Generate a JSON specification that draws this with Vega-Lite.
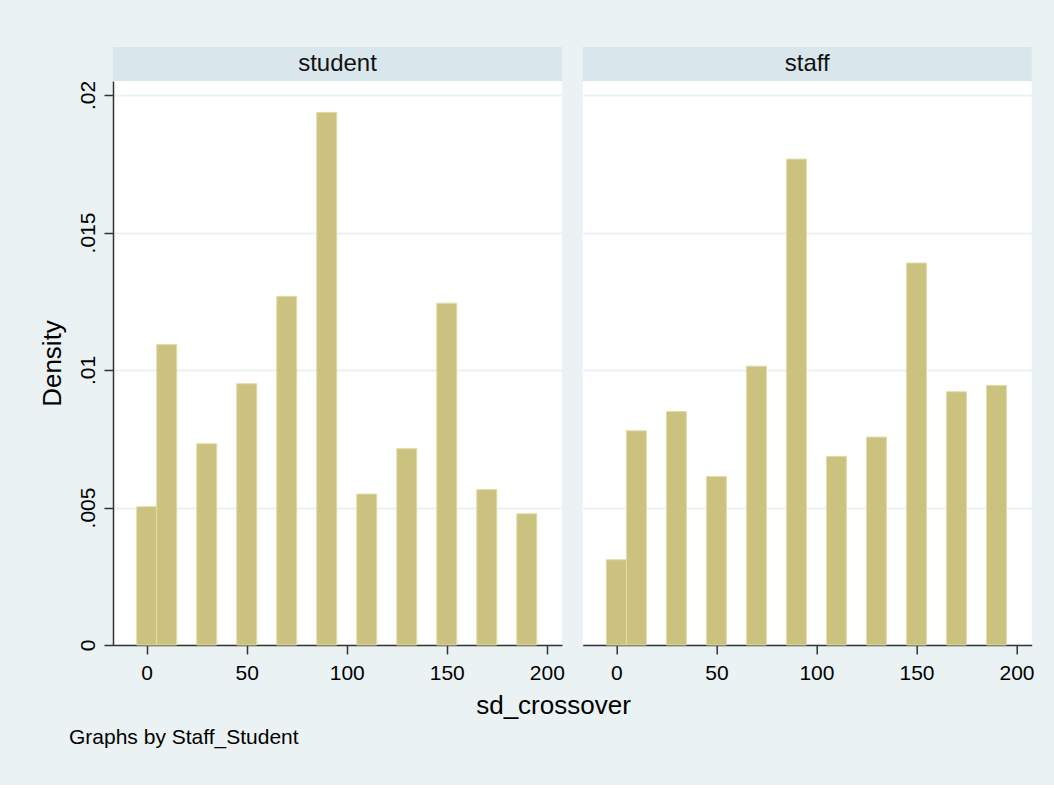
{
  "$schema": "https://vega.github.io/schema/vega-lite/v6.json",
  "background": "#eaf2f3",
  "padding": {"left": 39, "top": 47, "right": 19, "bottom": 37},
  "datasets": {
    "bars": [
      {"group": "student", "value": 0, "lo": -5, "hi": 5, "density": 0.00503},
      {"group": "student", "value": 10, "lo": 5, "hi": 15, "density": 0.01093},
      {"group": "student", "value": 30, "lo": 25, "hi": 35, "density": 0.00732},
      {"group": "student", "value": 50, "lo": 45, "hi": 55, "density": 0.00950},
      {"group": "student", "value": 70, "lo": 65, "hi": 75, "density": 0.01268},
      {"group": "student", "value": 90, "lo": 85, "hi": 95, "density": 0.01937},
      {"group": "student", "value": 110, "lo": 105, "hi": 115, "density": 0.00549},
      {"group": "student", "value": 130, "lo": 125, "hi": 135, "density": 0.00714},
      {"group": "student", "value": 150, "lo": 145, "hi": 155, "density": 0.01243},
      {"group": "student", "value": 170, "lo": 165, "hi": 175, "density": 0.00565},
      {"group": "student", "value": 190, "lo": 185, "hi": 195, "density": 0.00477},
      {"group": "staff", "value": 0, "lo": -5, "hi": 5, "density": 0.00310},
      {"group": "staff", "value": 10, "lo": 5, "hi": 15, "density": 0.00779},
      {"group": "staff", "value": 30, "lo": 25, "hi": 35, "density": 0.00849},
      {"group": "staff", "value": 50, "lo": 45, "hi": 55, "density": 0.00613},
      {"group": "staff", "value": 70, "lo": 65, "hi": 75, "density": 0.01014},
      {"group": "staff", "value": 90, "lo": 85, "hi": 95, "density": 0.01767},
      {"group": "staff", "value": 110, "lo": 105, "hi": 115, "density": 0.00686},
      {"group": "staff", "value": 130, "lo": 125, "hi": 135, "density": 0.00756},
      {"group": "staff", "value": 150, "lo": 145, "hi": 155, "density": 0.01389},
      {"group": "staff", "value": 170, "lo": 165, "hi": 175, "density": 0.00921},
      {"group": "staff", "value": 190, "lo": 185, "hi": 195, "density": 0.00944}
    ],
    "strips": [
      {"group": "student"},
      {"group": "staff"}
    ]
  },
  "title": {
    "text": "Graphs by Staff_Student",
    "orient": "bottom",
    "anchor": "start",
    "fontSize": 21,
    "fontWeight": "normal",
    "color": "#000000",
    "offset": 8,
    "dx": 30
  },
  "vconcat": [
    {
      "title": {
        "text": "sd_crossover",
        "orient": "bottom",
        "anchor": "middle",
        "fontSize": 26,
        "fontWeight": "normal",
        "color": "#000000",
        "offset": 10,
        "dx": 17
      },
      "spacing": 17.7,
      "hconcat": [
        {
          "spacing": 0,
          "bounds": "flush",
          "vconcat": [
            {
              "width": 449,
              "height": 34,
              "data": {"name": "strips"},
              "transform": [{"filter": "datum.group === 'student'"}],
              "view": {"fill": "#d9e6eb", "stroke": null},
              "mark": {"type": "text", "fontSize": 24, "color": "#111111", "align": "center", "baseline": "middle"},
              "encoding": {"text": {"field": "group", "type": "nominal"}}
            },
            {
              "width": 449,
              "height": 564,
              "data": {"name": "bars"},
              "transform": [{"filter": "datum.group === 'student'"}],
              "view": {"fill": "#ffffff", "stroke": null},
              "mark": {"type": "bar", "fill": "#cac27e", "stroke": "#e2dca8", "strokeWidth": 1},
              "encoding": {
                "x": {
                  "field": "lo", "type": "quantitative",
                  "scale": {"domain": [-16.85, 207.6], "nice": false, "zero": false},
                  "axis": {
                    "values": [0, 50, 100, 150, 200], "format": "d", "title": null, "grid": false,
                    "labelFontSize": 21, "labelColor": "#000000", "labelPadding": 8, "labelFlush": false, "labelOverlap": false,
                    "tickSize": 9, "tickColor": "#333333", "tickWidth": 1.5,
                    "domainColor": "#333333", "domainWidth": 1.5
                  }
                },
                "x2": {"field": "hi"},
                "y": {
                  "field": "density", "type": "quantitative",
                  "scale": {"domain": [0, 0.02051], "nice": false},
                  "axis": {
                    "values": [0, 0.005, 0.01, 0.015, 0.02],
                    "labelExpr": "datum.value == 0 ? '0' : slice(format(datum.value, '.3~f'), 1)",
                    "labelAngle": -90, "labelAlign": "center", "labelBaseline": "alphabetic", "labelPadding": 10,
                    "labelFontSize": 21, "labelColor": "#000000", "labelFlush": false, "labelOverlap": false,
                    "tickSize": 9, "tickColor": "#333333", "tickWidth": 1.5,
                    "domainColor": "#333333", "domainWidth": 1.5,
                    "grid": true, "gridColor": "#eaf2f3", "gridWidth": 2,
                    "title": "Density", "titleFontSize": 26, "titleFontWeight": "normal", "titleColor": "#000000", "titlePadding": 12
                  }
                },
                "y2": {"datum": 0}
              }
            }
          ]
        },
        {
          "spacing": 0,
          "bounds": "flush",
          "vconcat": [
            {
              "width": 449,
              "height": 34,
              "data": {"name": "strips"},
              "transform": [{"filter": "datum.group === 'staff'"}],
              "view": {"fill": "#d9e6eb", "stroke": null},
              "mark": {"type": "text", "fontSize": 24, "color": "#111111", "align": "center", "baseline": "middle"},
              "encoding": {"text": {"field": "group", "type": "nominal"}}
            },
            {
              "width": 449,
              "height": 564,
              "data": {"name": "bars"},
              "transform": [{"filter": "datum.group === 'staff'"}],
              "view": {"fill": "#ffffff", "stroke": null},
              "mark": {"type": "bar", "fill": "#cac27e", "stroke": "#e2dca8", "strokeWidth": 1},
              "encoding": {
                "x": {
                  "field": "lo", "type": "quantitative",
                  "scale": {"domain": [-16.85, 207.6], "nice": false, "zero": false},
                  "axis": {
                    "values": [0, 50, 100, 150, 200], "format": "d", "title": null, "grid": false,
                    "labelFontSize": 21, "labelColor": "#000000", "labelPadding": 8, "labelFlush": false, "labelOverlap": false,
                    "tickSize": 9, "tickColor": "#333333", "tickWidth": 1.5,
                    "domainColor": "#333333", "domainWidth": 1.5
                  }
                },
                "x2": {"field": "hi"},
                "y": {
                  "field": "density", "type": "quantitative",
                  "scale": {"domain": [0, 0.02051], "nice": false},
                  "axis": {
                    "values": [0, 0.005, 0.01, 0.015, 0.02],
                    "labels": false, "ticks": false, "domain": false, "title": null,
                    "grid": true, "gridColor": "#eaf2f3", "gridWidth": 2
                  }
                },
                "y2": {"datum": 0}
              }
            }
          ]
        }
      ]
    }
  ],
  "config": {
    "font": "Liberation Sans",
    "view": {"stroke": null}
  }
}
